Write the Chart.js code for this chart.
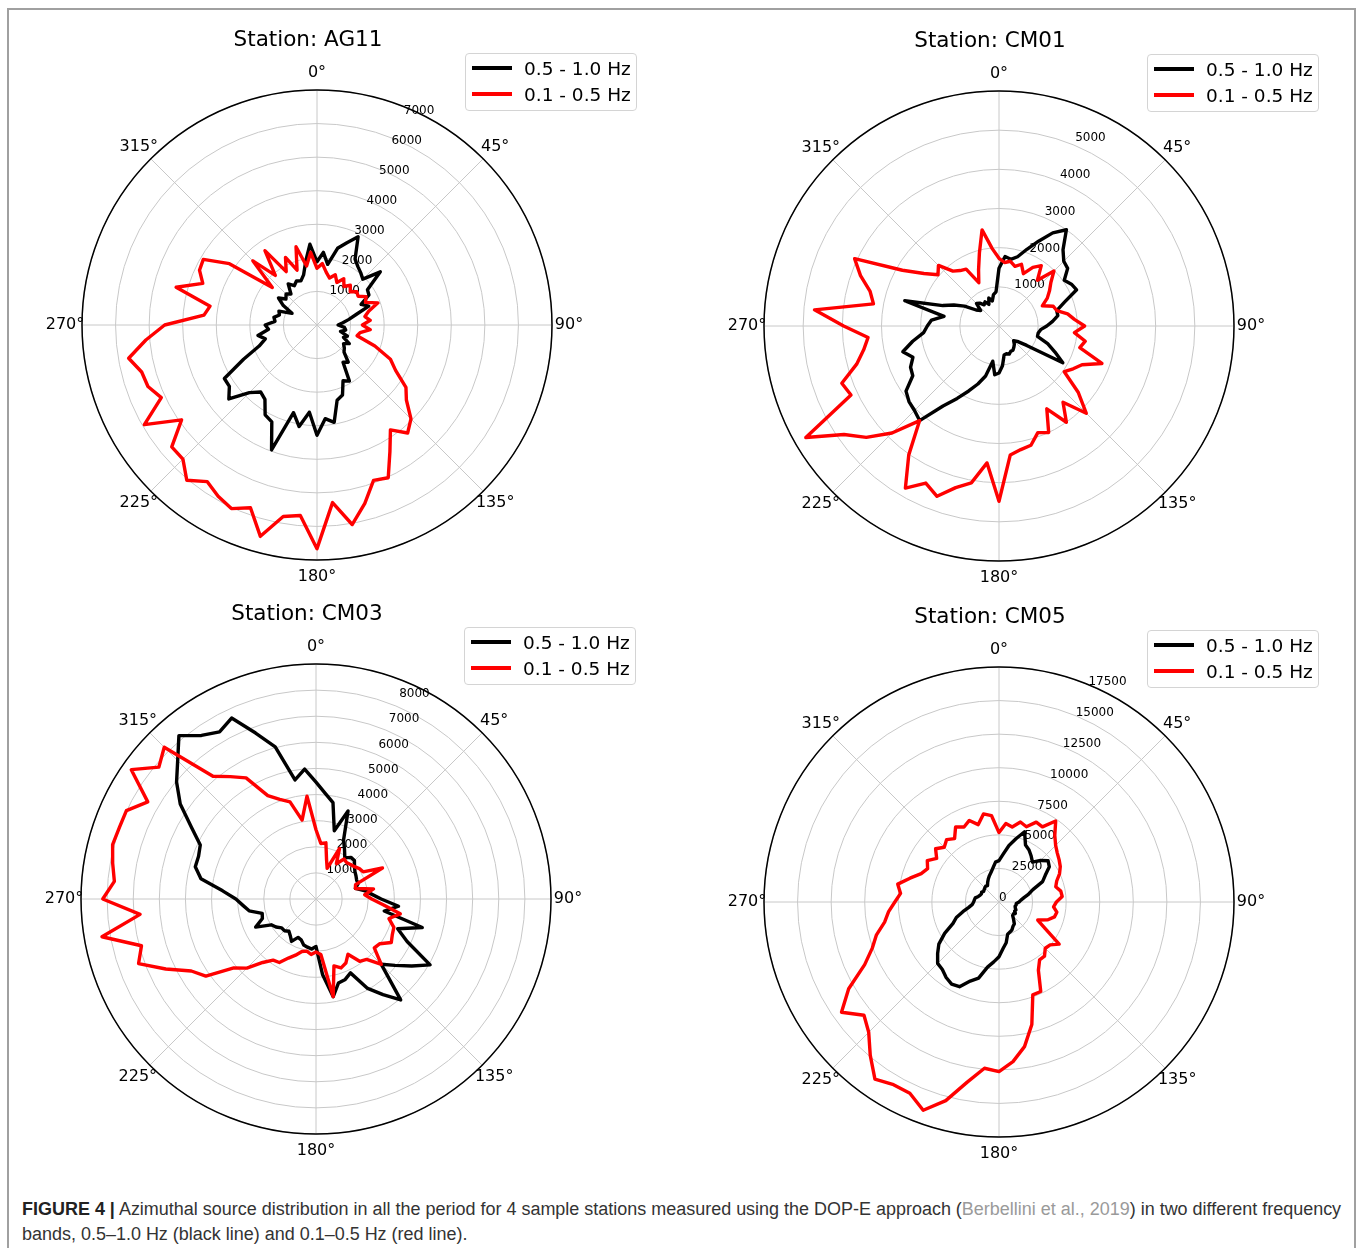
<!DOCTYPE html>
<html>
<head>
<meta charset="utf-8">
<script src="https://cdn.jsdelivr.net/npm/chart.js@4.4.1/dist/chart.umd.min.js"></script>
<style>
  html, body { margin: 0; padding: 0; background: #fff; }
  #fig { position: relative; width: 1358px; height: 1248px; overflow: hidden; background: #fff; }
  #frame { position: absolute; left: 7px; top: 8px; width: 1349px; height: 1260px; border: 2px solid #a0a0a0; box-sizing: border-box; }
  canvas.polar { position: absolute; }
  .title { position: absolute; font-family: "DejaVu Sans", sans-serif; font-size: 21.5px; color: #000;
           transform: translate(-50%, -50%); white-space: nowrap; }
  .legend { position: absolute; width: 172px; height: 58px; border: 1px solid #d4d4d4; border-radius: 4px;
            background: rgba(255,255,255,0.85); box-sizing: border-box; font-family: "DejaVu Sans", sans-serif;
            font-size: 18.5px; color: #000; }
  .legend .row { position: absolute; left: 0; height: 26px; display: flex; align-items: center; white-space: nowrap; }
  .legend .swatch { width: 40px; height: 3.5px; margin-left: 6px; margin-right: 12px; }
  #caption { position: absolute; left: 22px; top: 1197px; font-family: "Liberation Sans", Arial, sans-serif;
             font-size: 17px; line-height: 24.5px; color: #333; white-space: nowrap; }
  #caption b { color: #222; }
  #caption .ref { color: #9a9a9a; }
</style>
</head>
<body>
<div id="fig">
  <div id="frame"></div>
  <div id="caption"><span id="capline1"><b>FIGURE 4 |</b> Azimuthal source distribution in all the period for 4 sample stations measured using the DOP-E approach (<span class="ref">Berbellini et al., 2019</span>) in two different frequency</span><br>bands, 0.5–1.0 Hz (black line) and 0.1–0.5 Hz (red line).</div>
</div>
<script>
// ---------------- DATA ----------------
const azimuths = ['0','5','10','15','20','25','30','35','40','45','50','55','60','65','70','75','80','85',
  '90','95','100','105','110','115','120','125','130','135','140','145','150','155','160','165','170','175',
  '180','185','190','195','200','205','210','215','220','225','230','235','240','245','250','255','260','265',
  '270','275','280','285','290','295','300','305','310','315','320','325','330','335','340','345','350','355'];

const stationNames = ['AG11', 'CM01', 'CM03', 'CM05'];
const bandLabels = ['0.5 - 1.0 Hz', '0.1 - 0.5 Hz'];
const azimuthTickValues = [0, 45, 90, 135, 180, 225, 270, 315];
const azimuthTickLabels = ['0°', '45°', '90°', '135°', '180°', '225°', '270°', '315°'];

// AG11
const ag11HighBand = [1950,2250,1900,2450,2700,3000,2350,2200,2100,2000,2550,1900,1850,1500,1700,1250,1000,800,
  650,850,900,750,1000,900,1150,1000,1100,1180,1500,1400,2000,1900,2300,2400,3050,2900,
  3400,2700,3180,2800,4100,3300,3200,2800,2700,2950,3550,3300,3300,2500,1900,1650,1850,1500,
  1600,1300,1350,1200,1250,850,1200,1450,1250,1350,1250,1550,1400,1500,1450,1600,2000,2500];
const ag11LowBand = [1750,1900,1650,1500,1650,1450,1650,1450,1600,1450,1600,1550,1750,1650,2000,1650,1500,1650,
  1400,1650,1350,1280,1900,2500,2800,3350,3600,4100,4350,3950,4500,5200,5100,5700,6250,5500,
  6900,5900,6000,6750,6000,6250,6100,5900,6250,5850,5850,5100,6150,5300,5550,5600,5900,5300,
  4700,3500,3350,4500,3750,4000,4050,3300,1800,2800,2000,2800,1900,2300,1800,2500,1850,2250];
const ag11RadialTicks = [1000, 2000, 3000, 4000, 5000, 6000, 7000];
const ag11RadialMax = 7250;

// CM01
const cm01HighBand = [1450,1750,1700,1800,2050,2350,2700,2950,2500,2300,2250,2000,2100,2150,1750,1500,1500,1350,
  1200,1050,1000,1000,1300,1550,1850,850,600,520,600,650,700,700,750,720,740,1000,
  1180,1230,900,1300,1550,1800,2100,2450,3100,3000,2950,2850,2500,2450,2300,2500,2200,1900,
  1800,1700,1400,2450,1500,1250,1000,700,600,800,750,650,700,600,750,650,800,860];
const cm01LowBand = [1700,1600,1650,1550,1650,1450,1700,1850,1500,1950,1700,1550,1400,1200,1450,1500,1750,1900,
  2150,1900,2200,2100,2750,2300,2150,2000,2600,3100,2500,2950,2400,2950,2850,3100,3150,3250,
  4400,3450,4000,4200,4550,4350,4700,3950,3100,3800,4350,4750,5600,4100,4200,3700,3450,3300,
  3900,4650,3200,3350,3700,4000,2800,2300,2000,2150,1800,1700,1650,1200,1500,1900,2450,1950];
const cm01RadialTicks = [1000, 2000, 3000, 4000, 5000];
const cm01RadialMax = 5900;

// CM03
const cm03HighBand = [4300,3900,3600,2600,3450,2400,2100,1850,2000,2000,1850,1750,1700,1650,1650,1500,1800,2050,
  2400,3050,2550,4050,3200,3700,4850,4300,3800,3400,4850,4300,3800,3000,3150,3200,3650,2800,
  1750,1850,1800,1750,1600,1560,1800,1650,1550,1650,1650,1800,1900,2450,2100,2050,2500,2700,
  2950,3450,4300,4600,4600,4700,5300,6100,6700,7200,7850,7350,7100,7350,6500,5800,4450,4800];
const cm03LowBand = [2550,2050,2100,1500,1200,2050,1500,1800,1750,1800,1850,1950,2000,2700,1550,1500,2150,1800,
  2050,2500,3150,2780,3050,3100,3200,2870,2800,3400,2900,2800,2350,2600,2700,2550,3650,2050,
  1950,2050,1950,2000,2200,2400,2700,2750,3050,3600,3950,4950,5300,6100,6950,6650,8000,6500,
  7850,7450,7600,7750,7700,7700,7150,8300,7550,7900,5900,5500,5150,4200,3900,3700,2950,3800];
const cm03RadialTicks = [1000, 2000, 3000, 4000, 5000, 6000, 7000, 8000];
const cm03RadialMax = 8650;

// CM05
const cm05HighBand = [3100,3600,4300,4900,5600,4700,4500,4200,3900,4400,4800,4600,4000,3600,2700,2300,1900,1650,
  1500,1300,1300,1250,1300,1400,1350,1500,1400,1450,1700,2000,2100,2300,2400,2500,3100,3500,
  4100,4500,4950,5900,6300,7000,7100,6900,6600,6500,6000,5500,4700,3800,3400,2800,2300,2000,
  1900,1850,1800,1600,1500,1450,1500,1400,1450,1500,1550,1500,1700,1900,2100,2300,2600,3000];
const cm05LowBand = [5200,5900,5700,6200,6000,6600,6500,7400,6500,6000,5700,5500,5300,5000,4600,4400,4700,4750,
  4300,4100,4400,4300,3900,3200,4000,5500,5000,4900,5300,5300,5900,7400,7400,9500,11000,12000,
  12700,12500,13700,15400,16600,15800,15800,16200,15000,13800,13200,14400,13000,11100,10100,9500,8700,8300,
  7800,7400,7700,6900,6200,5900,6200,5700,6200,5800,6100,5800,6500,6200,6500,6000,6700,6500];
const cm05RadialTicks = [0, 2500, 5000, 7500, 10000, 12500, 15000, 17500];
const cm05RadialMax = 17600;

// ---------------- LAYOUT (positions / styles) ----------------
const panels = [
  { name: stationNames[0], high: ag11HighBand, low: ag11LowBand, ticks: ag11RadialTicks, max: ag11RadialMax, step: 1000, cx: 317, cy: 325 },
  { name: stationNames[1], high: cm01HighBand, low: cm01LowBand, ticks: cm01RadialTicks, max: cm01RadialMax, step: 1000, cx: 999, cy: 326 },
  { name: stationNames[2], high: cm03HighBand, low: cm03LowBand, ticks: cm03RadialTicks, max: cm03RadialMax, step: 1000, cx: 316, cy: 899 },
  { name: stationNames[3], high: cm05HighBand, low: cm05LowBand, ticks: cm05RadialTicks, max: cm05RadialMax, step: 2500, cx: 999, cy: 902 }
];
const R = 235;                 // polar radius in px
const PAD = { left: 65, top: 65, right: 135, bottom: 55 };
const CW = PAD.left + 2 * R + PAD.right, CH = PAD.top + 2 * R + PAD.bottom;
const HIGH_COLOR = '#000000', LOW_COLOR = '#ff0000', GRID_COLOR = '#c8c8c8';
const LINE_W = 3.4;

Chart.defaults.font.family = '"DejaVu Sans", sans-serif';

function openAtNorth(color) {
  // leave the segment that closes the loop (355° -> 0°) undrawn, as in the original plot
  return ctx => (ctx.p1DataIndex === 0 ? 'rgba(0,0,0,0)' : color);
}

function makeDecor(p) {
  return {
    id: 'polarDecor',
    beforeDatasetsDraw(chart) {
      const r = chart.scales.r, ctx = chart.ctx;
      const degPerIndex = 360 / chart.data.labels.length;
      ctx.save();
      ctx.fillStyle = '#000';
      // radial tick labels along 22.5°
      ctx.font = '12px "DejaVu Sans"';
      ctx.textAlign = 'left';
      ctx.textBaseline = 'bottom';
      p.ticks.forEach(v => {
        const pt = r.getPointPosition(22.5 / degPerIndex, r.getDistanceFromCenterForValue(v));
        ctx.fillText(String(v), pt.x, pt.y + 2);
      });
      // azimuth labels
      ctx.font = '16px "DejaVu Sans"';
      ctx.textAlign = 'center';
      ctx.textBaseline = 'middle';
      azimuthTickValues.forEach((deg, i) => {
        const pt = r.getPointPosition(deg / degPerIndex, r.drawingArea + 17);
        ctx.fillText(azimuthTickLabels[i], pt.x, pt.y);
      });
      ctx.restore();
    },
    afterDatasetsDraw(chart) {
      const r = chart.scales.r, ctx = chart.ctx;
      ctx.save();
      ctx.beginPath();
      ctx.arc(r.xCenter, r.yCenter, r.drawingArea, 0, Math.PI * 2);
      ctx.strokeStyle = '#000';
      ctx.lineWidth = 1.5;
      ctx.stroke();
      ctx.restore();
    }
  };
}

const fig = document.getElementById('fig');
panels.forEach(p => {
  const cv = document.createElement('canvas');
  cv.className = 'polar';
  cv.width = CW; cv.height = CH;
  cv.style.width = CW + 'px'; cv.style.height = CH + 'px';
  cv.style.left = (p.cx - PAD.left - R) + 'px';
  cv.style.top = (p.cy - PAD.top - R) + 'px';
  fig.appendChild(cv);

  new Chart(cv.getContext('2d'), {
    type: 'radar',
    data: {
      labels: azimuths,
      datasets: [
        { label: bandLabels[0], data: p.high, borderColor: HIGH_COLOR, backgroundColor: 'rgba(0,0,0,0)',
          borderWidth: LINE_W, pointRadius: 0, pointHoverRadius: 0, fill: false, order: 1,
          borderJoinStyle: 'round', borderCapStyle: 'round', segment: { borderColor: openAtNorth(HIGH_COLOR) } },
        { label: bandLabels[1], data: p.low, borderColor: LOW_COLOR, backgroundColor: 'rgba(0,0,0,0)',
          borderWidth: LINE_W, pointRadius: 0, pointHoverRadius: 0, fill: false, order: 0,
          borderJoinStyle: 'round', borderCapStyle: 'round', segment: { borderColor: openAtNorth(LOW_COLOR) } }
      ]
    },
    options: {
      responsive: false,
      animation: false,
      devicePixelRatio: 1,
      layout: { padding: PAD },
      plugins: { legend: { display: false }, tooltip: { enabled: false }, title: { display: false } },
      scales: {
        r: {
          min: 0, max: p.max, startAngle: 0,
          ticks: { display: false, stepSize: p.step, includeBounds: false },
          grid: { circular: true, color: GRID_COLOR, lineWidth: 1 },
          angleLines: { display: true, color: GRID_COLOR, lineWidth: c => (c.index % 9 === 0 ? 1 : 0) },
          pointLabels: { display: false }
        }
      }
    },
    plugins: [makeDecor(p)]
  });

  const t = document.createElement('div');
  t.className = 'title';
  t.textContent = 'Station: ' + p.name;
  t.style.left = (p.cx - 9) + 'px';
  t.style.top = (p.cy - 287) + 'px';
  fig.appendChild(t);

  const lg = document.createElement('div');
  lg.className = 'legend';
  lg.style.left = (p.cx + 148) + 'px';
  lg.style.top = (p.cy - 272) + 'px';
  [[bandLabels[0], HIGH_COLOR, 1], [bandLabels[1], LOW_COLOR, 27]].forEach(([txt, col, top]) => {
    const row = document.createElement('div');
    row.className = 'row';
    row.style.top = top + 'px';
    const sw = document.createElement('span');
    sw.className = 'swatch';
    sw.style.background = col;
    const tx = document.createElement('span');
    tx.textContent = txt;
    row.appendChild(sw); row.appendChild(tx);
    lg.appendChild(row);
  });
  fig.appendChild(lg);
});

// fit caption first line to the original width by font size
(function fitCaption() {
  const cap = document.getElementById('caption');
  const l1 = document.getElementById('capline1');
  const target = 1320;
  const w = l1.getBoundingClientRect().width;
  const fs = 17 * target / w;
  cap.style.fontSize = fs.toFixed(2) + 'px';
})();
</script>
</body>
</html>
